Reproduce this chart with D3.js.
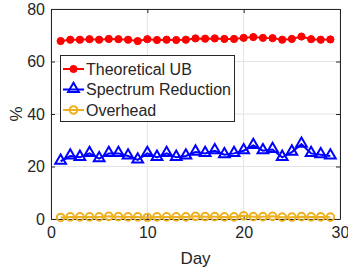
<!DOCTYPE html>
<html>
<head>
<meta charset="utf-8">
<script src="https://cdn.jsdelivr.net/npm/d3@7"></script>
<style>
  body { margin: 0; background: #fff; }
  text { font-family: "Liberation Sans", Arial, sans-serif; fill: #262626; }
</style>
</head>
<body>
<svg id="chart" width="348" height="273"></svg>
<script>
var width = 348,
    height = 273;

// days 1..29
const days = [1,2,3,4,5,6,7,8,9,10,11,12,13,14,15,16,17,18,19,20,21,22,23,24,25,26,27,28,29];
const theoretical_ub = [67.8,68.3,68.3,68.5,68.3,68.6,68.5,68.3,67.8,68.5,68.2,68.3,68.2,68.3,68.8,68.7,68.8,68.6,68.6,69.0,69.3,69.0,68.9,68.3,68.6,69.5,68.5,68.3,68.4];
const spectrum_reduction = [22,24,23.5,25,23,25,25,24,22.5,25,23.5,25,23.5,24,25.5,25,26,24.5,25,26,28,26,26.5,23.5,25.5,28.5,25,24.5,24];
const overhead = [0.6,0.8,0.8,0.8,0.8,1.0,0.9,0.8,0.8,0.6,0.8,0.8,0.8,0.8,1.0,0.9,0.9,0.8,0.8,1.2,0.9,0.9,1.0,0.7,0.7,0.9,0.8,0.8,0.7];
const x_ticks = [0, 10, 20, 30];
const y_ticks = [0, 20, 40, 60, 80];
const series_names = ["Theoretical UB", "Spectrum Reduction", "Overhead"];
const series_colors = ["#ff0000", "#0000ff", "#edb120"];

var margin = { left: 51, right: 8, top: 9, bottom: 54 };
var svg = d3.select("#chart");

var x = d3.scaleLinear().domain([0, 30]).range([margin.left, width - margin.right]);
var y = d3.scaleLinear().domain([0, 80]).range([height - margin.bottom, margin.top]);

// grid
var grid = svg.append("g");
grid.selectAll("line.gx")
    .data(x_ticks)
    .join("line")
    .attr("x1", function (d) { return x(d); })
    .attr("x2", function (d) { return x(d); })
    .attr("y1", y(0))
    .attr("y2", y(80))
    .attr("stroke", "#e3e3e3")
    .attr("stroke-width", 1);
grid.selectAll("line.gy")
    .data(y_ticks)
    .join("line")
    .attr("x1", x(0))
    .attr("x2", x(30))
    .attr("y1", function (d) { return y(d); })
    .attr("y2", function (d) { return y(d); })
    .attr("stroke", "#e3e3e3")
    .attr("stroke-width", 1);

// axes (matlab style, ticks inside)
var xAxis = svg.append("g")
    .attr("transform", "translate(0," + y(0) + ")")
    .call(d3.axisBottom(x).tickValues(x_ticks).tickSizeInner(-4).tickSizeOuter(0).tickPadding(8));
var xAxisTop = svg.append("g")
    .attr("transform", "translate(0," + y(80) + ")")
    .call(d3.axisTop(x).tickValues(x_ticks).tickSizeInner(-4).tickSizeOuter(0).tickFormat(""));
var yAxis = svg.append("g")
    .attr("transform", "translate(" + x(0) + ",0)")
    .call(d3.axisLeft(y).tickValues(y_ticks).tickSizeInner(-4).tickSizeOuter(0).tickPadding(6));
var yAxisRight = svg.append("g")
    .attr("transform", "translate(" + x(30) + ",0)")
    .call(d3.axisRight(y).tickValues(y_ticks).tickSizeInner(-4).tickSizeOuter(0).tickFormat(""));

[xAxis, xAxisTop, yAxis, yAxisRight].forEach(function (a) {
    a.selectAll("path, line").attr("stroke", "#262626").attr("stroke-width", 1);
    a.selectAll("text").attr("font-size", 16).attr("fill", "#262626")
        .attr("font-family", "Liberation Sans, Arial, sans-serif");
});

// axis labels
svg.append("text")
    .attr("x", x(15))
    .attr("y", 264)
    .attr("text-anchor", "middle")
    .attr("font-size", 17)
    .text("Day");
svg.append("text")
    .attr("transform", "translate(22," + y(40) + ") rotate(-90)")
    .attr("text-anchor", "middle")
    .attr("font-size", 17)
    .text("%");

var all_series = [theoretical_ub, spectrum_reduction, overhead];
var line = d3.line()
    .x(function (d, i) { return x(days[i]); })
    .y(function (d) { return y(d); });

var tri = d3.symbol().type(d3.symbolTriangle).size(50);

function drawMarker(g, k, cx, cy) {
    if (k == 0) {
        g.append("circle").attr("cx", cx).attr("cy", cy).attr("r", 3.6)
            .attr("fill", series_colors[0]).attr("stroke", series_colors[0]).attr("stroke-width", 1);
    } else if (k == 1) {
        g.append("path").attr("d", tri()).attr("transform", "translate(" + cx + "," + (cy - 0.5) + ")")
            .attr("fill", "none").attr("stroke", series_colors[1]).attr("stroke-width", 2);
    } else {
        g.append("circle").attr("cx", cx).attr("cy", cy).attr("r", 3.8)
            .attr("fill", "none").attr("stroke", series_colors[2]).attr("stroke-width", 2);
    }
}

all_series.forEach(function (vals, k) {
    var g = svg.append("g");
    g.append("path")
        .datum(vals)
        .attr("d", line)
        .attr("fill", "none")
        .attr("stroke", series_colors[k])
        .attr("stroke-width", 2);
    vals.forEach(function (v, i) {
        drawMarker(g, k, x(days[i]), y(v));
    });
});

// legend
var legend = svg.append("g");
legend.append("rect")
    .attr("x", 60.5).attr("y", 55.5)
    .attr("width", 174).attr("height", 66)
    .attr("fill", "#fff")
    .attr("stroke", "#262626")
    .attr("stroke-width", 1);
series_names.forEach(function (name, k) {
    var ly = 69 + k * 20.5;
    legend.append("line")
        .attr("x1", 63).attr("x2", 84)
        .attr("y1", ly).attr("y2", ly)
        .attr("stroke", series_colors[k]).attr("stroke-width", 2);
    drawMarker(legend, k, 73.5, ly);
    legend.append("text")
        .attr("x", 86)
        .attr("y", ly + 5.5)
        .attr("font-size", 16)
        .text(name);
});
</script>
</body>
</html>
